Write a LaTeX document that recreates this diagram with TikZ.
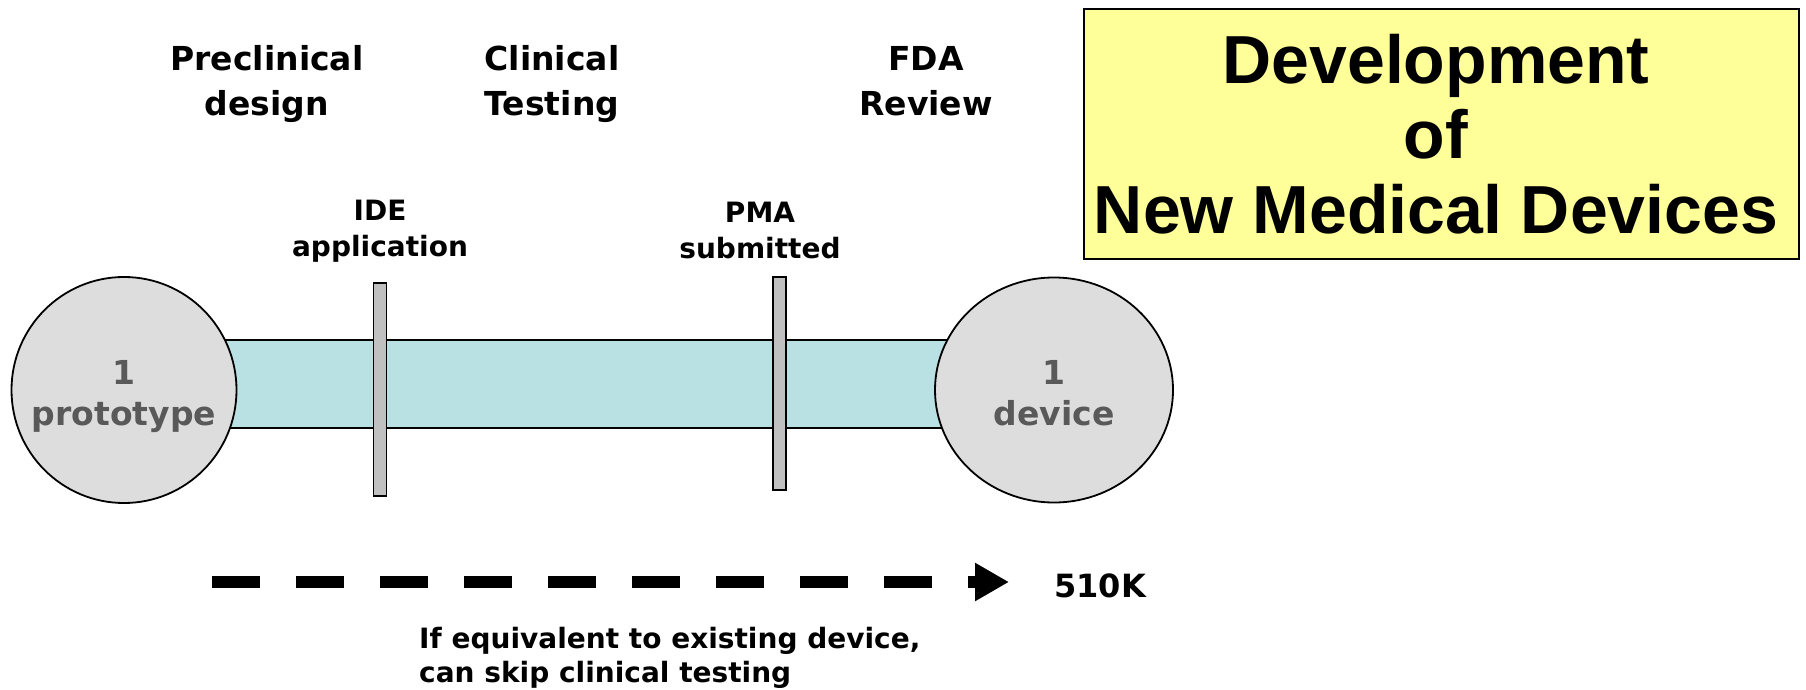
\documentclass[tikz,border=0pt]{standalone}
\usepackage{fontspec}
\setmainfont{DejaVu Sans}
\newfontfamily\titlefont{Liberation Sans}
\usetikzlibrary{shapes.geometric,arrows.meta}
\definecolor{bandfill}{HTML}{B9E0E3}
\definecolor{circfill}{HTML}{DDDDDD}
\definecolor{circtext}{HTML}{595959}
\definecolor{barfill}{HTML}{C0C0C0}
\definecolor{titlefill}{HTML}{FFFF99}
\begin{document}
\begin{tikzpicture}[x=1pt,y=-1pt,
  header/.style={font=\fontsize{33}{45}\selectfont\bfseries, align=center, inner sep=0pt},
  milestone/.style={font=\fontsize{28}{36}\selectfont\bfseries, align=center, inner sep=0pt},
  bandbox/.style={draw=black, line width=1.5pt, fill=bandfill, rectangle, inner sep=0pt},
  stage/.style={ellipse, draw=black, line width=1.8pt, fill=circfill, inner sep=0pt},
  stagetext/.style={text=circtext, font=\fontsize{33}{41}\selectfont\bfseries, align=center, inner sep=0pt},
  barbox/.style={draw=black, line width=1.5pt, fill=barfill, rectangle, inner sep=0pt,
     minimum width=13pt, minimum height=213pt},
  dashline/.style={line width=12pt, dash pattern=on 48pt off 36pt,
     -{Triangle[length=34pt,width=36pt]}},
]
\useasboundingbox (0,0) rectangle (1806,690);

% band
\node[bandbox, minimum width=820pt, minimum height=88pt] (band) at (590,384) {};

% stages
\node[stage, minimum width=225pt, minimum height=226pt] (proto) at (124,390) {};
\node[stage, minimum width=238pt, minimum height=225pt] (device) at (1054,390) {};
\node[stagetext] (protolbl) at (proto.center) [yshift=-6.5pt] {1\strut\\prototype\strut};
\node[stagetext] (devicelbl) at (device.center) [yshift=-6.5pt] {1\strut\\device\strut};

% milestone bars
\node[barbox] (ide) at (380,389.5) {};
\node[barbox] (pma) at (779.5,383.5) {};

% milestone labels
\node[milestone] (idelbl) at (380,231) {IDE\strut\\application\strut};
\node[milestone] (pmalbl) at (760,233) {PMA\strut\\submitted\strut};

% headers
\node[header] (h1) at (267,84.5) {Preclinical\strut\\design\strut};
\node[header] (h2) at (552,84.5) {Clinical\strut\\Testing\strut};
\node[header] (h3) at (926,84.5) {FDA\strut\\Review\strut};

% title box
\node[draw=black, line width=1.5pt, fill=titlefill, minimum width=715pt, minimum height=250pt,
      inner sep=0pt] (titlebox) at (1441.5,134) {};
\node[font=\titlefont\fontsize{68}{75}\selectfont\bfseries, align=center, inner sep=0pt]
      (title) at (1436,134.5) {Development\\of\\New Medical Devices};

% 510K dashed arrow
\coordinate (a1) at (212,582);
\coordinate (a2) at (1009,582);
\draw[dashline] (a1) -- (a2);
\node[font=\fontsize{32}{38}\selectfont\bfseries, anchor=west, inner sep=0pt] (k510) at (1054,586) {510K};

\node[font=\fontsize{28}{34}\selectfont\bfseries, align=left, anchor=west, inner sep=0pt]
      (note) at (419,657.5) {If equivalent to existing device,\\can skip clinical testing};
\end{tikzpicture}
\end{document}
